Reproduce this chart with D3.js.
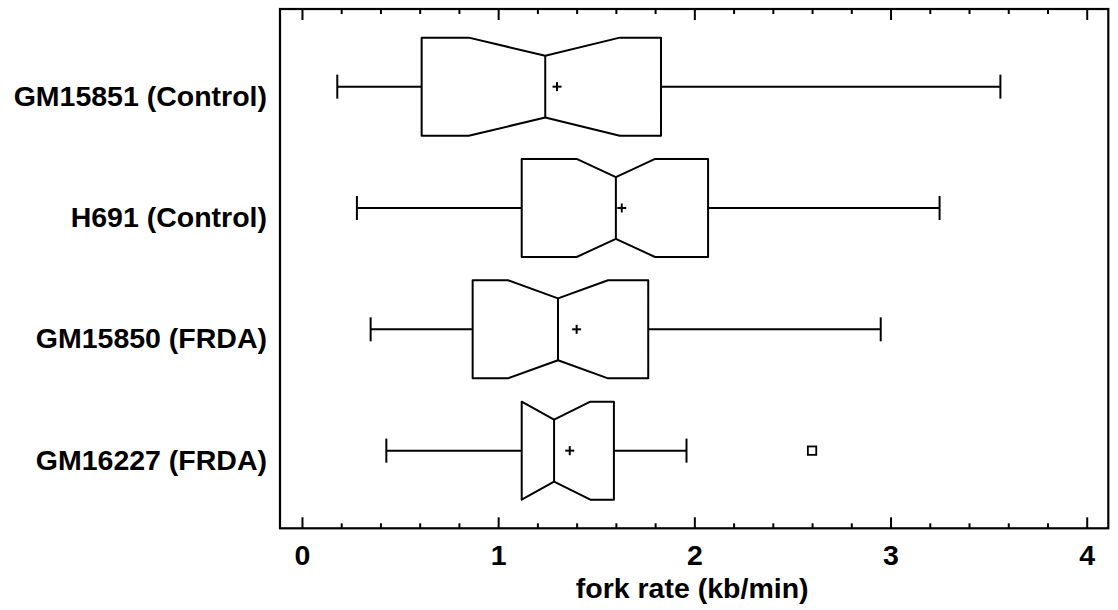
<!DOCTYPE html>
<html>
<head>
<meta charset="utf-8">
<script src="https://cdn.jsdelivr.net/npm/d3@7/dist/d3.min.js"></script>
<style>
  html, body { margin: 0; padding: 0; background: #fff; }
  svg text { font-family: "Liberation Sans", Arial, sans-serif; font-weight: bold; fill: #000; }
</style>
</head>
<body>
<svg id="chart" width="1118" height="610"></svg>
<script>
// ---- data ----
const categories = ["GM15851 (Control)", "H691 (Control)", "GM15850 (FRDA)", "GM16227 (FRDA)"];
const whiskerLow  = [0.18, 0.28, 0.35, 0.43];
const q1          = [0.61, 1.12, 0.87, 1.12];
const notchLow    = [0.85, 1.40, 1.05, 1.12];
const median      = [1.24, 1.60, 1.305, 1.285];
const notchHigh   = [1.62, 1.80, 1.56, 1.47];
const q3          = [1.83, 2.07, 1.765, 1.59];
const whiskerHigh = [3.56, 3.25, 2.95, 1.96];
const meanValues  = [1.30, 1.63, 1.40, 1.365];
const outliers    = [[], [], [], [2.60]];
const majorTicks  = [0, 1, 2, 3, 4];
const minorTicks  = [0.2,0.4,0.6,0.8,1.2,1.4,1.6,1.8,2.2,2.4,2.6,2.8,3.2,3.4,3.6,3.8];
const xTitle = "fork rate (kb/min)";

(function () {
// ---- layout ----
const pLeft = 280, pRight = 1108.3, pTop = 9, pBottom = 528.3;
const svg = d3.select("#chart");

const x = d3.scaleLinear().domain([-0.112, 4.11]).range([pLeft, pRight]);
const y = d3.scalePoint().domain(categories).range([pTop, pBottom]).padding(0.64);
const step = y.step();
const boxHalf = step * 0.404;
const notchHalf = step * 0.255;
const capHalf = 12;

const rows = categories.map((c, i) => ({
  cat: c, wl: whiskerLow[i], q1: q1[i], nl: Math.max(notchLow[i], q1[i]), med: median[i],
  nh: Math.min(notchHigh[i], q3[i]), q3: q3[i], wh: whiskerHigh[i], mean: meanValues[i], out: outliers[i]
}));

// ---- axes (ticks pointing inward) ----
const fontSize = 28.5;
const fontFam = "'Liberation Sans', Arial, sans-serif";
function styleAxis(g) {
  g.select(".domain").remove();
  g.selectAll("line").attr("stroke", "#000").attr("stroke-width", 2);
}
svg.append("g").attr("transform", `translate(0,${pBottom})`)
  .call(d3.axisBottom(x).tickValues(majorTicks).tickFormat(d3.format("d")).tickSizeInner(-11).tickSizeOuter(0).tickPadding(16))
  .call(styleAxis)
  .call(g => g.selectAll("text").style("font-size", fontSize + "px").style("font-family", fontFam).style("font-weight", "bold").attr("fill", "#000"));
svg.append("g").attr("transform", `translate(0,${pBottom})`)
  .call(d3.axisBottom(x).tickValues(minorTicks).tickFormat("").tickSizeInner(-5).tickSizeOuter(0))
  .call(styleAxis);
svg.append("g").attr("transform", `translate(0,${pTop})`)
  .call(d3.axisTop(x).tickValues(majorTicks).tickFormat("").tickSizeInner(-11).tickSizeOuter(0))
  .call(styleAxis);
svg.append("g").attr("transform", `translate(0,${pTop})`)
  .call(d3.axisTop(x).tickValues(minorTicks).tickFormat("").tickSizeInner(-5).tickSizeOuter(0))
  .call(styleAxis);
svg.append("g").attr("transform", `translate(${pLeft},0)`)
  .call(d3.axisLeft(y).tickSize(0).tickPadding(13))
  .call(g => g.select(".domain").remove())
  .call(g => g.selectAll("text").attr("dy", "0.65em").style("font-size", fontSize + "px").style("font-family", fontFam).style("font-weight", "bold").attr("fill", "#000"));

// frame
svg.append("rect").attr("x", pLeft).attr("y", pTop).attr("width", pRight - pLeft).attr("height", pBottom - pTop)
  .attr("fill", "none").attr("stroke", "#000").attr("stroke-width", 2.2);

// axis title
svg.append("text").attr("x", (pLeft + pRight) / 2 - 2).attr("y", 598).attr("text-anchor", "middle")
  .style("font-size", fontSize + "px").text(xTitle);

// ---- boxes ----
const g = svg.append("g").attr("stroke", "#000").attr("stroke-width", 2).attr("fill", "none");
rows.forEach(r => {
  const cy = y(r.cat);
  const t = cy - boxHalf, b = cy + boxHalf, it = cy - notchHalf, ib = cy + notchHalf;
  const pts = [
    [x(r.q1), t], [x(r.nl), t], [x(r.med), it], [x(r.nh), t], [x(r.q3), t],
    [x(r.q3), b], [x(r.nh), b], [x(r.med), ib], [x(r.nl), b], [x(r.q1), b]
  ];
  g.append("path").attr("d", d3.line()(pts) + "Z").attr("stroke-linejoin", "round");
  g.append("line").attr("x1", x(r.med)).attr("x2", x(r.med)).attr("y1", it).attr("y2", ib);
  g.append("line").attr("x1", x(r.wl)).attr("x2", x(r.q1)).attr("y1", cy).attr("y2", cy);
  g.append("line").attr("x1", x(r.q3)).attr("x2", x(r.wh)).attr("y1", cy).attr("y2", cy);
  g.append("line").attr("x1", x(r.wl)).attr("x2", x(r.wl)).attr("y1", cy - capHalf).attr("y2", cy + capHalf);
  g.append("line").attr("x1", x(r.wh)).attr("x2", x(r.wh)).attr("y1", cy - capHalf).attr("y2", cy + capHalf);
  const mx = x(r.mean);
  g.append("line").attr("x1", mx - 4.5).attr("x2", mx + 4.5).attr("y1", cy).attr("y2", cy);
  g.append("line").attr("x1", mx).attr("x2", mx).attr("y1", cy - 4.5).attr("y2", cy + 4.5);
  r.out.forEach(o => {
    g.append("rect").attr("x", x(o) - 4.2).attr("y", cy - 4.2).attr("width", 8.4).attr("height", 8.4)
      .attr("stroke-width", 1.8);
  });
});
})();
</script>
</body>
</html>
